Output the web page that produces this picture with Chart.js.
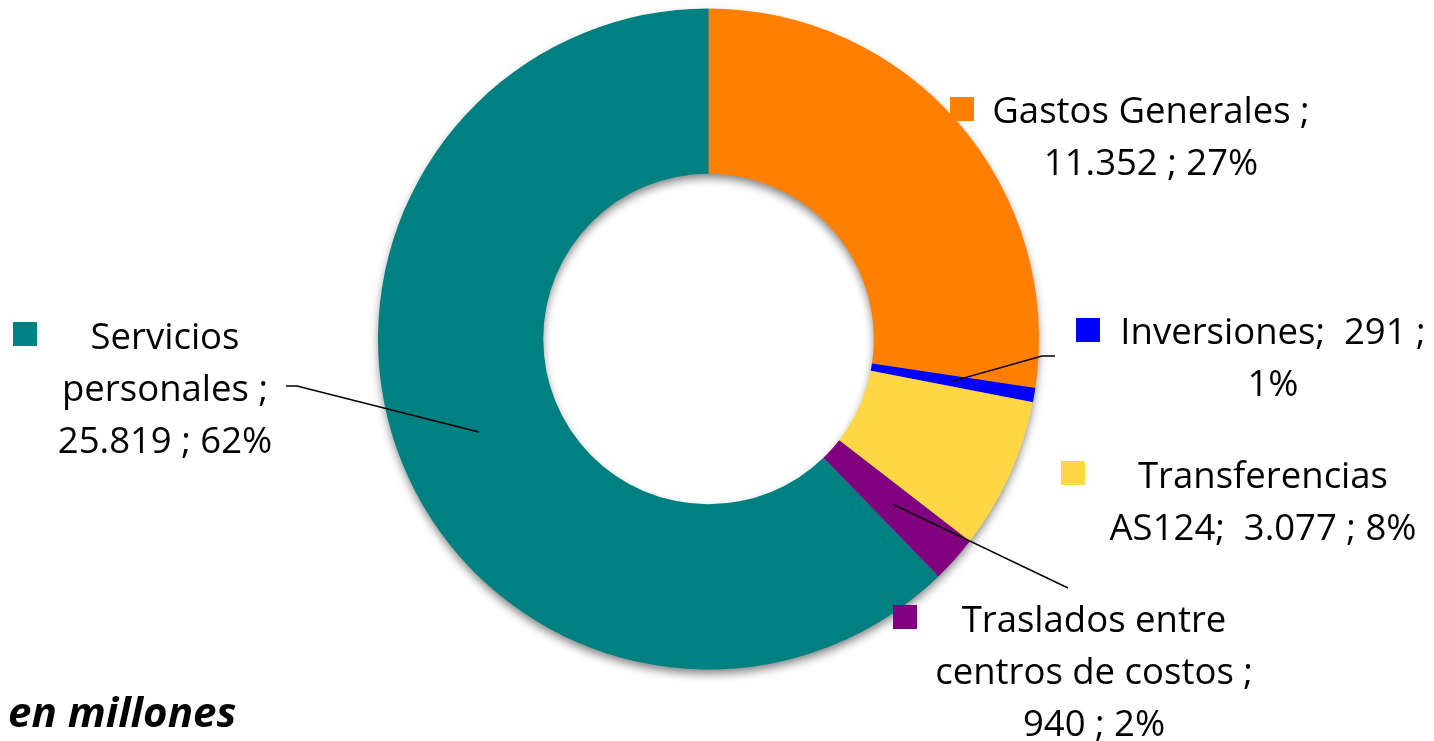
<!DOCTYPE html>
<html>
<head>
<meta charset="utf-8">
<script src="https://cdn.jsdelivr.net/npm/chart.js@4.4.1/dist/chart.umd.min.js"></script>
<style>
    html, body { margin: 0; padding: 0; background: #fff; }
    #wrap { width: 1434px; height: 741px; }
</style>
</head>
<body>
<div id="wrap"><canvas id="donaChart" width="1434" height="741"></canvas></div>
<script>
// datos (en millones)
var categorias = ['Gastos Generales ', 'Inversiones', 'Transferencias AS124', 'Traslados entre centros de costos ', 'Servicios personales '];
var valores = [11352, 291, 3077, 940, 25819];
var porcentajes = ['27%', '1%', '8%', '2%', '62%'];
var colores = ['#FF8000', '#0000FF', '#FFD744', '#800080', '#008080'];

var FONT = '"Open Sans", "Lato", sans-serif';
var FONT_SIZE = 36.5;

// donde va cada etiqueta (cuadro de color, centro del texto, lineas base, ancho para cortar, guia)
var etiquetas = [
    { cuadro: [950, 97], cx: 1151, y: 123, ancho: 345, guia: null },
    { cuadro: [1076, 318], cx: 1273, y: 344, ancho: 335, guia: [[1042, 356], [1055, 356]] },
    { cuadro: [1061, 461], cx: 1263, y: 488, ancho: 340, guia: null },
    { cuadro: [893, 605], cx: 1094, y: 632, ancho: 340, guia: [[1068, 588]] },
    { cuadro: [13, 322], cx: 165, y: 349, ancho: 260, guia: [[297, 386], [286, 386]] }
];
var INTERLINEA = 52;

// formato contable de excel: punto de miles y espacio delante
function formato(n) {
    return ' ' + String(n).replace(/\B(?=(\d{3})+(?!\d))/g, '.');
}

function cortar(ctx, texto, ancho) {
    var palabras = texto.split(' ');
    var lineas = [];
    var actual = '';
    palabras.forEach(function (p) {
        var prueba = actual === '' ? p : actual + ' ' + p;
        if (actual !== '' && p !== '' && ctx.measureText(prueba.trim()).width > ancho) {
            lineas.push(actual.trim());
            actual = p;
        } else {
            actual = prueba;
        }
    });
    if (actual.trim() !== '') lineas.push(actual.trim());
    return lineas;
}

// sombra suave bajo el anillo
var sombraAnillo = {
    id: 'sombraAnillo',
    beforeDatasetsDraw: function (chart) {
        var arc = chart.getDatasetMeta(0).data[0];
        if (!arc) return;
        var ctx = chart.ctx;
        ctx.save();
        ctx.beginPath();
        ctx.arc(arc.x, arc.y, arc.outerRadius - 1, 0, Math.PI * 2, false);
        ctx.arc(arc.x, arc.y, arc.innerRadius + 1, 0, Math.PI * 2, true);
        ctx.closePath();
        ctx.shadowColor = 'rgba(0,0,0,0.5)';
        ctx.shadowBlur = 10;
        ctx.shadowOffsetY = 5;
        ctx.fillStyle = '#808080';
        ctx.fill();
        ctx.restore();
    }
};

// etiquetas de datos estilo excel
var etiquetasDatos = {
    id: 'etiquetasDatos',
    afterDatasetsDraw: function (chart) {
        var ctx = chart.ctx;
        var meta = chart.getDatasetMeta(0);
        ctx.save();
        ctx.font = FONT_SIZE + 'px ' + FONT;
        ctx.textAlign = 'center';
        ctx.textBaseline = 'alphabetic';

        meta.data.forEach(function (arc, i) {
            var e = etiquetas[i];
            // guia desde el centro del sector
            if (e.guia) {
                var c = arc.getCenterPoint();
                ctx.beginPath();
                ctx.moveTo(c.x, c.y);
                e.guia.forEach(function (p) { ctx.lineTo(p[0], p[1]); });
                ctx.lineWidth = 1.5;
                ctx.strokeStyle = '#000';
                ctx.stroke();
            }
            ctx.fillStyle = colores[i];
            ctx.fillRect(e.cuadro[0], e.cuadro[1], 24, 24);

            ctx.fillStyle = '#000';
            var texto = categorias[i] + '; ' + formato(valores[i]) + ' ; ' + porcentajes[i];
            var lineas = cortar(ctx, texto, e.ancho);
            lineas.forEach(function (l, k) {
                ctx.fillText(l, e.cx, e.y + k * INTERLINEA);
            });
        });

        ctx.font = 'italic bold 42px ' + FONT;
        ctx.textAlign = 'left';
        ctx.fillText('en millones', 8, 727);
        ctx.restore();
    }
};

var ctx = document.getElementById('donaChart').getContext('2d');
var myChart = new Chart(ctx, {
    type: 'doughnut',
    data: {
        labels: categorias,
        datasets: [{
            data: valores,
            backgroundColor: colores,
            borderWidth: 0,
            hoverOffset: 0
        }]
    },
    options: {
        responsive: false,
        animation: false,
        cutout: '50%',
        layout: {
            padding: { top: 8, bottom: 71, left: 378, right: 395 }
        },
        plugins: {
            legend: { display: false },
            tooltip: { enabled: false }
        }
    },
    plugins: [sombraAnillo, etiquetasDatos]
});
</script>
</body>
</html>
